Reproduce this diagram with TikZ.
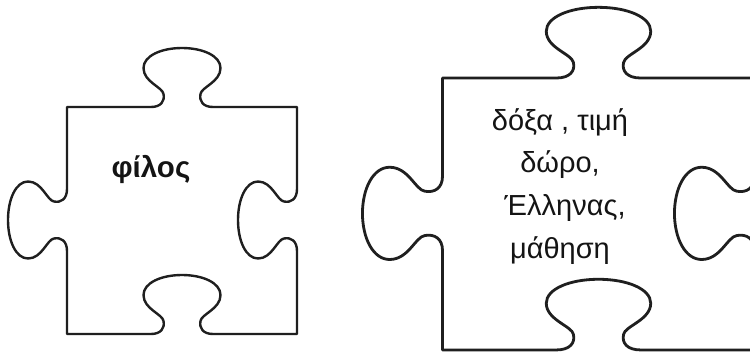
\documentclass[tikz,border=0pt]{standalone}
\usepackage{fontspec}
\setmainfont{Liberation Sans}
\begin{document}
\begin{tikzpicture}[x=1pt,y=-1pt,
  piece/.style={draw=black!88,line join=round,fill=white},
  lbl/.style={anchor=base,inner sep=0pt,text=black!92}]
\useasboundingbox (0,0) rectangle (750,353);
\fill[white] (0,0) rectangle (750,353);
\newcommand\puzzleoutline{%
(0,0) -- (84,0) .. controls (94,0) and (98,-6) .. (96.5,-13)
 .. controls (95.5,-20) and (76.5,-25) .. (76.5,-39)
 .. controls (76.5,-51) and (94,-59) .. (115,-59)
 .. controls (136,-59) and (153.5,-51) .. (153.5,-39)
 .. controls (153.5,-25) and (134.5,-20) .. (133.5,-13)
 .. controls (132,-6) and (136,0) .. (146,0)
 -- (230,0) -- (230,82)
 .. controls (230,92) and (224,96) .. (217,94.5)
 .. controls (210,93.5) and (205,74.5) .. (191,74.5)
 .. controls (179,74.5) and (171,92) .. (171,113)
 .. controls (171,134) and (179,151.5) .. (191,151.5)
 .. controls (205,151.5) and (210,132.5) .. (217,131.5)
 .. controls (224,130) and (230,134) .. (230,144)
 -- (230,227) -- (146,227)
 .. controls (136,227) and (132,221) .. (133.5,214)
 .. controls (134.5,207) and (153.5,202) .. (153.5,188)
 .. controls (153.5,176) and (136,168) .. (115,168)
 .. controls (94,168) and (76.5,176) .. (76.5,188)
 .. controls (76.5,202) and (95.5,207) .. (96.5,214)
 .. controls (98,221) and (94,227) .. (84,227)
 -- (0,227) -- (0,144)
 .. controls (0,134) and (-6,130) .. (-13,131.5)
 .. controls (-20,132.5) and (-25,151.5) .. (-39,151.5)
 .. controls (-51,151.5) and (-59,134) .. (-59,113)
 .. controls (-59,92) and (-51,74.5) .. (-39,74.5)
 .. controls (-25,74.5) and (-20,93.5) .. (-13,94.5)
 .. controls (-6,96) and (0,92) .. (0,82) -- cycle}
% left piece
\draw[piece,line width=2.4pt,shift={(67,107)}] \puzzleoutline;
% right piece
\draw[piece,line width=2.8pt,shift={(442.5,78)},xscale=1.3565,yscale=1.198] \puzzleoutline;
% texts
\node[lbl,font=\fontsize{29.5}{33}\selectfont\bfseries] (filos) at (151,177) {φίλος};
\node[lbl,font=\fontsize{29}{33}\selectfont] (l1) at (560,130) {δόξα , τιμή};
\node[lbl,font=\fontsize{29}{33}\selectfont] (l2) at (560,172) {δώρο,};
\node[lbl,font=\fontsize{29}{33}\selectfont] (l3) at (565,215) {Έλληνας,};
\node[lbl,font=\fontsize{29}{33}\selectfont] (l4) at (560,258) {μάθηση};
\end{tikzpicture}
\end{document}
